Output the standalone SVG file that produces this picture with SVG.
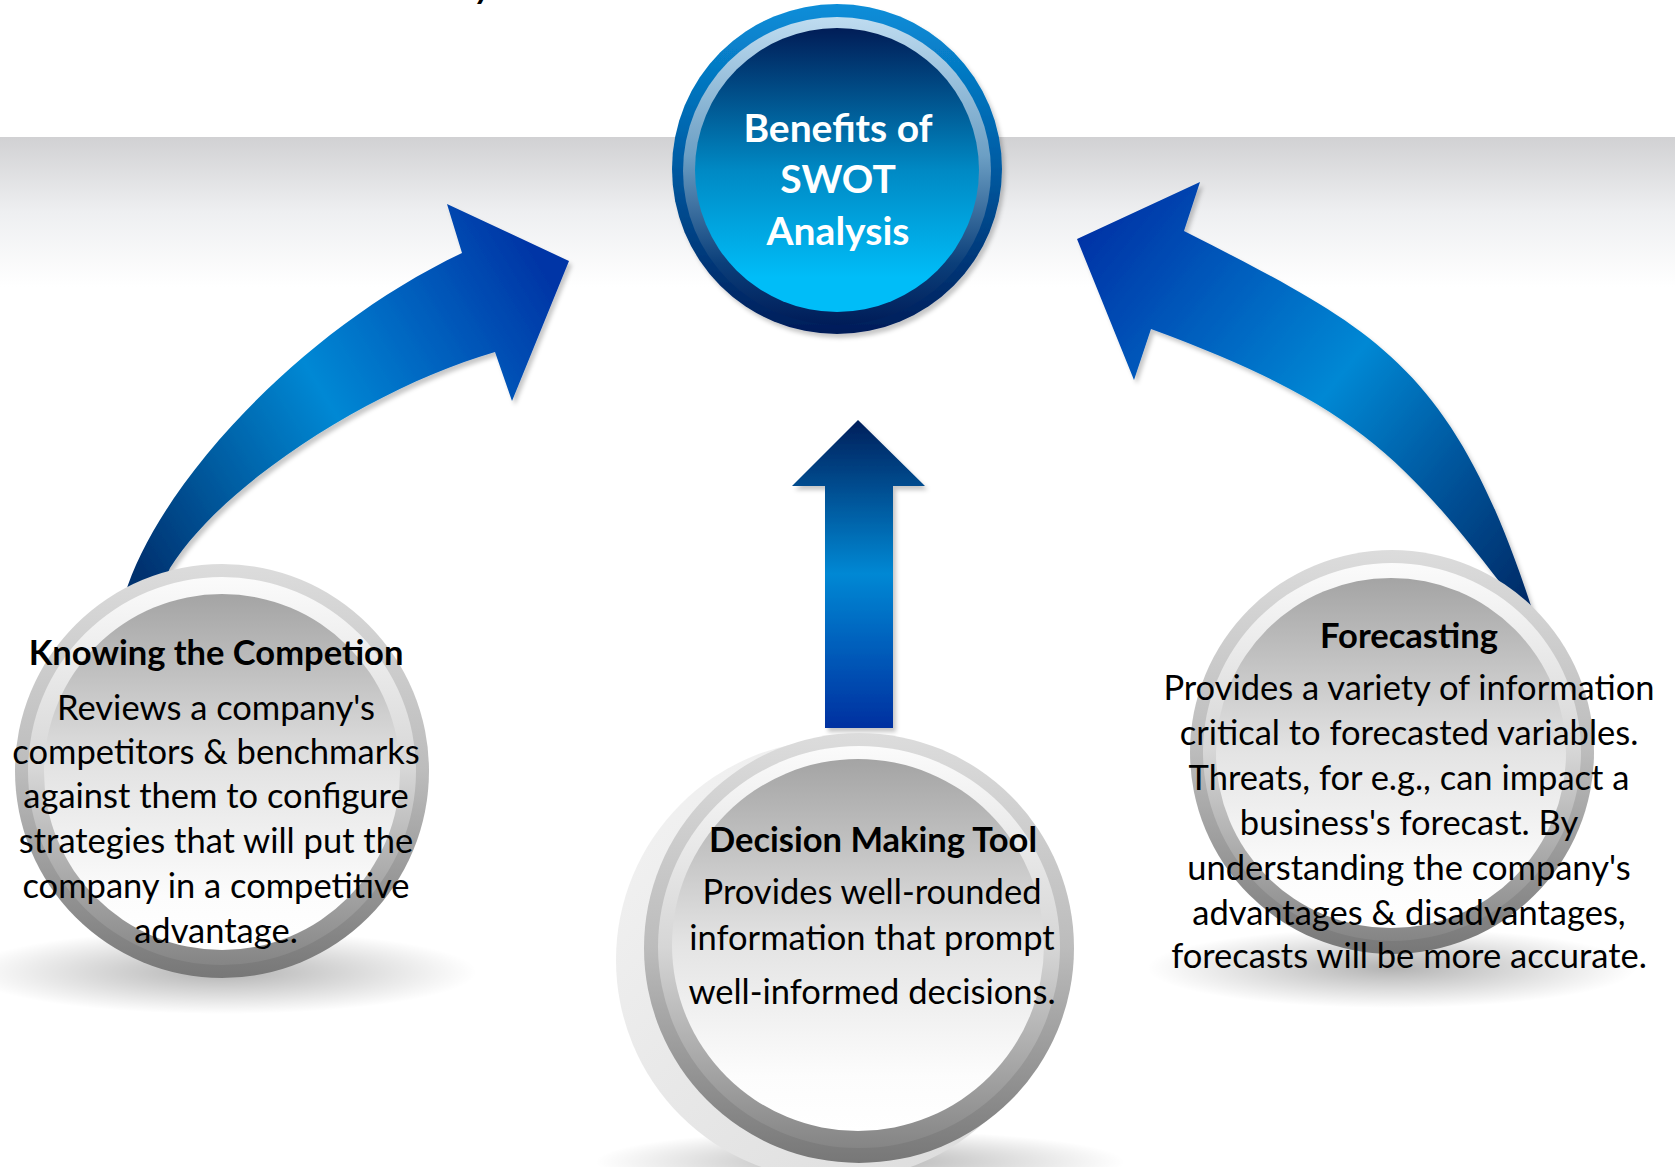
<svg xmlns="http://www.w3.org/2000/svg" width="1675" height="1167" viewBox="0 0 1675 1167">
<style>
.t{font-family:Lato,"Open Sans","Liberation Sans",sans-serif;fill:#000;text-anchor:middle;font-size:34.5px}
.b{font-weight:bold}
.w{fill:#fff;font-weight:bold;font-size:39px}
</style>
<defs>
<linearGradient id="band" x1="0" y1="0" x2="0" y2="1">
<stop offset="0" stop-color="#d1d1d3"/><stop offset="0.5" stop-color="#eeeff1"/><stop offset="1" stop-color="#ffffff"/>
</linearGradient>
<linearGradient id="cOuter" x1="0" y1="0" x2="0" y2="1">
<stop offset="0" stop-color="#0a8ed9"/><stop offset="0.45" stop-color="#0060a8"/><stop offset="1" stop-color="#001c58"/>
</linearGradient>
<linearGradient id="cRing" x1="0" y1="0" x2="0" y2="1">
<stop offset="0" stop-color="#bfdcf0"/><stop offset="0.45" stop-color="#6c9fc4"/><stop offset="0.8" stop-color="#0b3f7a"/><stop offset="1" stop-color="#001c58"/>
</linearGradient>
<linearGradient id="cInner" x1="0" y1="0" x2="0" y2="1">
<stop offset="0" stop-color="#011d57"/><stop offset="0.5" stop-color="#0089c4"/><stop offset="0.88" stop-color="#00bdf8"/><stop offset="1" stop-color="#00bdf8"/>
</linearGradient>
<linearGradient id="gOuter" x1="0" y1="0" x2="0" y2="1">
<stop offset="0" stop-color="#dcdcdc"/><stop offset="0.5" stop-color="#bcbcbc"/><stop offset="1" stop-color="#777777"/>
</linearGradient>
<linearGradient id="gMid" x1="0" y1="0" x2="0" y2="1">
<stop offset="0" stop-color="#fbfbfb"/><stop offset="0.5" stop-color="#d6d6d6"/><stop offset="1" stop-color="#858585"/>
</linearGradient>
<linearGradient id="gInner" x1="0" y1="0" x2="0" y2="1">
<stop offset="0" stop-color="#a4a4a4"/><stop offset="0.5" stop-color="#e4e4e4"/><stop offset="0.85" stop-color="#fcfcfc"/><stop offset="1" stop-color="#ffffff"/>
</linearGradient>
<linearGradient id="gGhost" x1="0" y1="0" x2="1" y2="1">
<stop offset="0" stop-color="#f4f4f4"/><stop offset="1" stop-color="#dadada"/>
</linearGradient>
<radialGradient id="shadow">
<stop offset="0" stop-color="#000" stop-opacity="0.3"/><stop offset="1" stop-color="#000" stop-opacity="0"/>
</radialGradient>
<linearGradient id="aLeft" gradientUnits="userSpaceOnUse" x1="130" y1="560" x2="560" y2="300">
<stop offset="0" stop-color="#00306e"/><stop offset="0.22" stop-color="#00589c"/><stop offset="0.5" stop-color="#0088d4"/><stop offset="1" stop-color="#0036a6"/>
</linearGradient>
<linearGradient id="aRight" gradientUnits="userSpaceOnUse" x1="1530" y1="600" x2="1080" y2="240">
<stop offset="0" stop-color="#002a66"/><stop offset="0.25" stop-color="#00559c"/><stop offset="0.5" stop-color="#0088d4"/><stop offset="1" stop-color="#0033a6"/>
</linearGradient>
<linearGradient id="aMid" gradientUnits="userSpaceOnUse" x1="0" y1="420" x2="0" y2="728">
<stop offset="0" stop-color="#001f5b"/><stop offset="0.5" stop-color="#0088d4"/><stop offset="1" stop-color="#0030a0"/>
</linearGradient>
<filter id="ds" x="-20%" y="-20%" width="140%" height="140%">
<feDropShadow dx="3" dy="4" stdDeviation="2" flood-color="#000" flood-opacity="0.22"/>
</filter>
</defs>
<rect width="1675" height="1167" fill="#fff"/>
<rect x="0" y="137" width="1675" height="150" fill="url(#band)"/>
<text class="t b" x="484" y="-2" font-size="40" font-style="italic">y</text>

<g id="connectors">
<path filter="url(#ds)" fill="url(#aLeft)" d="M121,605 L128,585 C165,480 300,330 462,253 L447,204 L569,261 L512,401 L495,352 C380,385 225,480 170,568 L160,590 Z"/>
<path filter="url(#ds)" fill="url(#aRight)" d="M1540,632 L1533,612 C1453,364 1374,328 1184,231 L1200,182 L1077,239 L1134,380 L1151,329 C1349,402 1400,453 1502,585 L1512,605 Z"/>
<path filter="url(#ds)" fill="url(#aMid)" d="M858,420 L925,486 L893,486 L893,728 L825,728 L825,486 L792,486 Z"/>
</g>

<g id="center">
<circle cx="837" cy="169" r="165" fill="url(#cOuter)" filter="url(#ds)"/>
<circle cx="837" cy="171" r="154" fill="url(#cRing)"/>
<circle cx="837" cy="170" r="142" fill="url(#cInner)"/>
<text class="t w" x="838" y="142">Benefits of</text>
<text class="t w" x="838" y="193">SWOT</text>
<text class="t w" x="838" y="245">Analysis</text>
</g>

<g id="left">
<ellipse cx="222" cy="972" rx="255" ry="42" fill="url(#shadow)"/>
<circle cx="222" cy="771" r="207" fill="url(#gOuter)"/>
<circle cx="222" cy="771" r="194" fill="url(#gMid)"/>
<circle cx="222" cy="772" r="178" fill="url(#gInner)"/>
<text class="t b" x="216" y="665">Knowing the Competion</text>
<text class="t" x="216" y="720">Reviews a company's</text>
<text class="t" x="216" y="764">competitors &amp; benchmarks</text>
<text class="t" x="216" y="808">against them to configure</text>
<text class="t" x="216" y="853">strategies that will put the</text>
<text class="t" x="216" y="898">company in a competitive</text>
<text class="t" x="216" y="943">advantage.</text>
</g>

<g id="middle">
<ellipse cx="860" cy="1162" rx="265" ry="32" fill="url(#shadow)"/>
<circle cx="836" cy="960" r="220" fill="url(#gGhost)"/>
<circle cx="859" cy="948" r="215" fill="url(#gOuter)"/>
<circle cx="859" cy="947" r="201" fill="url(#gMid)"/>
<circle cx="858" cy="945" r="186" fill="url(#gInner)"/>
<text class="t b" x="873" y="852">Decision Making Tool</text>
<text class="t" x="872" y="904">Provides well-rounded</text>
<text class="t" x="872" y="950">information that prompt</text>
<text class="t" x="872" y="1004">well-informed decisions.</text>
</g>

<g id="right">
<ellipse cx="1392" cy="968" rx="245" ry="40" fill="url(#shadow)"/>
<circle cx="1392" cy="752" r="202" fill="url(#gOuter)"/>
<circle cx="1392" cy="752" r="189" fill="url(#gMid)"/>
<circle cx="1391" cy="753" r="175" fill="url(#gInner)"/>
<text class="t b" x="1409" y="648">Forecasting</text>
<text class="t" x="1409" y="700">Provides a variety of information</text>
<text class="t" x="1409" y="745">critical to forecasted variables.</text>
<text class="t" x="1409" y="790">Threats, for e.g., can impact a</text>
<text class="t" x="1409" y="835">business's forecast. By</text>
<text class="t" x="1409" y="880">understanding the company's</text>
<text class="t" x="1409" y="925">advantages &amp; disadvantages,</text>
<text class="t" x="1409" y="968">forecasts will be more accurate.</text>
</g>
</svg>
